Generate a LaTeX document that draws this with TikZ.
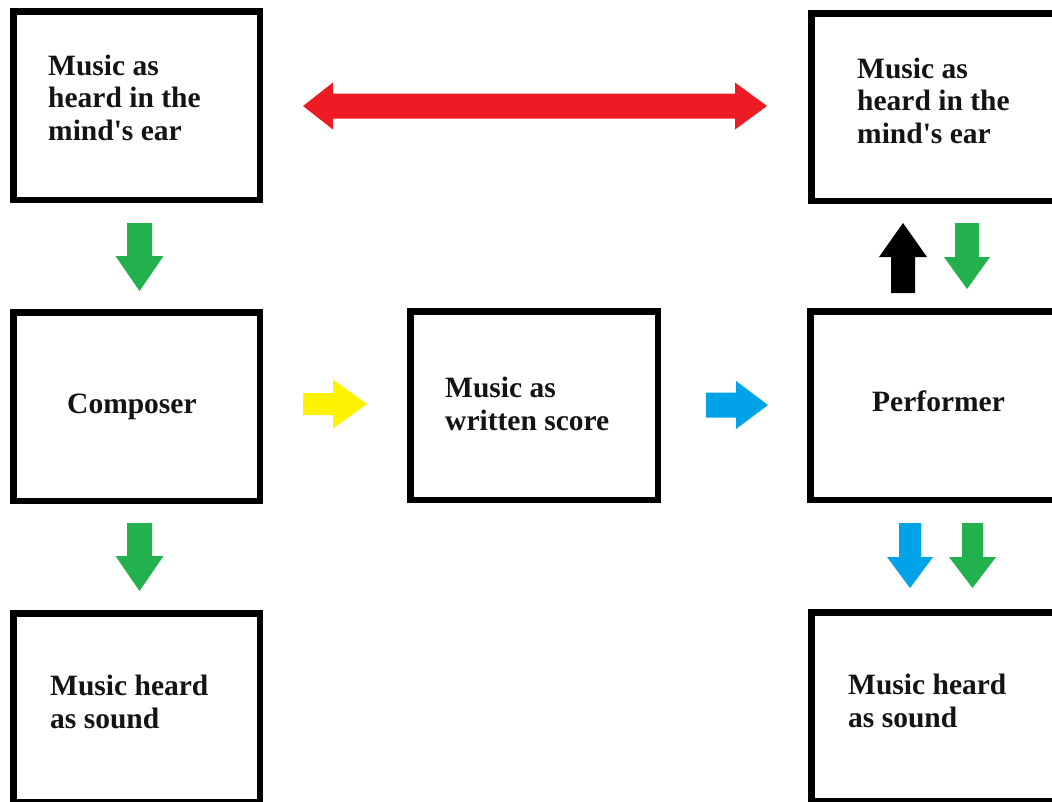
\documentclass[tikz,border=0pt]{standalone}
\usepackage{fontspec}
\setmainfont{Liberation Serif}
\definecolor{pred}{RGB}{237,28,36}
\definecolor{pgreen}{RGB}{34,177,76}
\definecolor{pblue}{RGB}{0,162,232}
\definecolor{pyellow}{RGB}{255,242,0}
\tikzset{
  box/.style={draw=black, line width=6.5pt, fill=white, rectangle, inner sep=0pt},
  label/.style={anchor=base west, inner sep=0pt, align=left,
    font=\bfseries\fontsize{29.5}{32.5}\selectfont, text=black!92},
}
\begin{document}
\begin{tikzpicture}[x=1pt,y=-1pt]
\clip (0,0) rectangle (1052,801);
\fill[white] (0,0) rectangle (1052,801);
% boxes (centre lines inset by half the line width)
\node[box, minimum width=246.5pt, minimum height=188.5pt] (mindL) at (136.5,105.5) {};
\node[box, minimum width=300pt, minimum height=187.5pt] (mindR) at (961.25,107) {};
\node[box, minimum width=246.5pt, minimum height=188.5pt] (comp) at (136.5,406.5) {};
\node[box, minimum width=247.5pt, minimum height=188.5pt] (score) at (534,405.5) {};
\node[box, minimum width=300pt, minimum height=188.5pt] (perf) at (960.25,405.5) {};
\node[box, minimum width=246.5pt, minimum height=189pt] (soundL) at (136.5,707.75) {};
\node[box, minimum width=300pt, minimum height=189pt] (soundR) at (961.25,706.75) {};
% texts (base anchor = baseline of the last line)
\node[label] (tmindL) at (48,140) {Music as\\heard in the\\mind\textquotesingle s ear};
\node[label] (tmindR) at (857,143) {Music as\\heard in the\\mind\textquotesingle s ear};
\node[label] (tcomp) at (67,413) {Composer};
\node[label] (tscore) at (445,430) {Music as\\written score};
\node[label] (tperf) at (872,411) {Performer};
\node[label] (tsoundL) at (50,728) {Music heard\\as sound};
\node[label] (tsoundR) at (848,727) {Music heard\\as sound};
% red double arrow
\fill[pred] (303,106) -- (333,82.5) -- (333,93.5) -- (735,93.5) -- (735,82.5) -- (767,106)
  -- (735,129.5) -- (735,118.5) -- (333,118.5) -- (333,129.5) -- cycle;
% yellow arrow
\fill[pyellow] (303,393) -- (333,393) -- (333,379.5) -- (367,404) -- (333,428.5) -- (333,415) -- (303,415) -- cycle;
% blue right arrow
\fill[pblue] (706,392.5) -- (736,392.5) -- (736,381) -- (768,405) -- (736,429) -- (736,417.5) -- (706,417.5) -- cycle;
% green left arrows
\fill[pgreen] (127,223) -- (152,223) -- (152,256) -- (163.5,256) -- (139.5,291) -- (115.5,256) -- (127,256) -- cycle;
\fill[pgreen] (127,523) -- (152,523) -- (152,556) -- (163.5,556) -- (139.5,591) -- (115.5,556) -- (127,556) -- cycle;
% black up arrow
\fill[black] (891,293) -- (915,293) -- (915,257) -- (927,257) -- (903,223) -- (879,257) -- (891,257) -- cycle;
% green right top
\fill[pgreen] (955,223) -- (979,223) -- (979,257) -- (990,257) -- (967,289) -- (944,257) -- (955,257) -- cycle;
% blue bottom
\fill[pblue] (899,523) -- (921,523) -- (921,557) -- (933,557) -- (910,588) -- (887,557) -- (899,557) -- cycle;
% green bottom right
\fill[pgreen] (962,523) -- (983,523) -- (983,557) -- (996,557) -- (972.5,588) -- (949,557) -- (962,557) -- cycle;
\end{tikzpicture}
\end{document}
